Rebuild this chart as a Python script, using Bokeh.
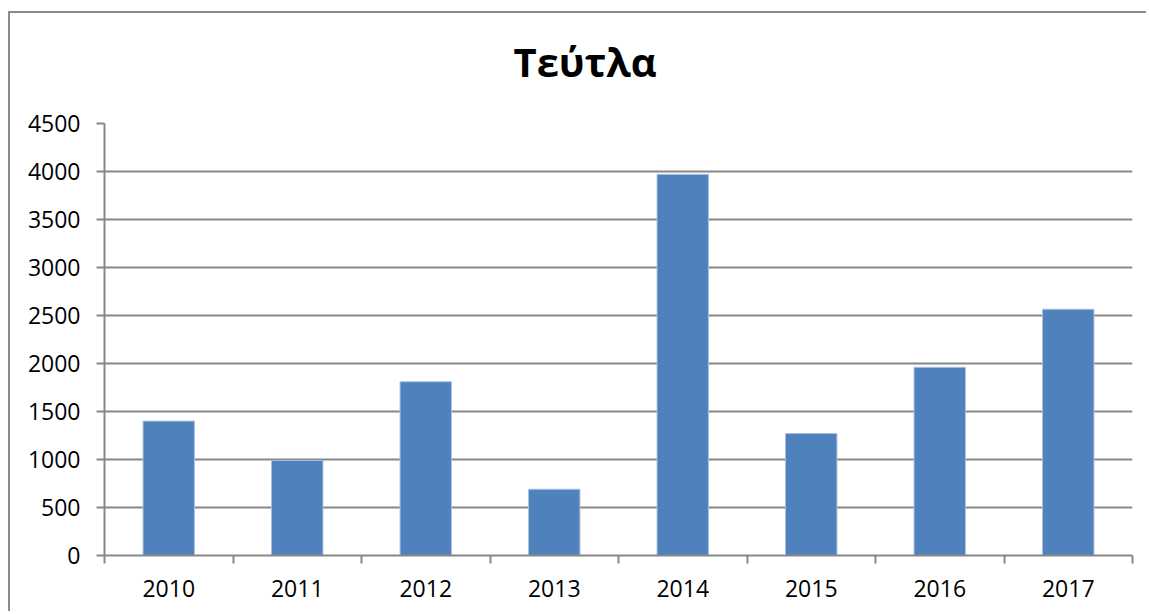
from bokeh.plotting import figure
from bokeh.models import FixedTicker, Range1d, Title
from bokeh.embed import file_html
from bokeh.resources import INLINE

# ---- data ----
title_text = "Τεύτλα"
years = ["2010", "2011", "2012", "2013", "2014", "2015", "2016", "2017"]
values = [1400, 990, 1810, 690, 3970, 1270, 1960, 2565]
y_ticks = [0, 500, 1000, 1500, 2000, 2500, 3000, 3500, 4000, 4500]

n = len(years)
centers = [i + 0.5 for i in range(n)]
bounds = [i for i in range(n + 1)]

GRID = "#878787"
FONT = "Open Sans"

p = figure(width=1138, height=600, output_backend="svg", toolbar_location=None,
           x_range=Range1d(0, n), y_range=Range1d(0, 4500),
           min_border_left=94, min_border_right=16, min_border_top=110, min_border_bottom=58)
p.styles = {"border-top": "2px solid #8a8a8a", "border-left": "2px solid #8a8a8a",
            "margin-top": "11px", "margin-left": "8px"}
p.outline_line_color = None

p.vbar(x=centers, top=values, width=0.4, fill_color="#4F81BD", line_color="#a9c0de", line_width=1)

# blank spacer between plot area and title
p.add_layout(Title(text=" ", text_font_size="1px", standoff=14), "above")

# title
p.title.text = title_text
p.title.align = "left"
p.title.vertical_align = "bottom"
p.title.text_font = FONT
p.title.text_font_size = "40px"
p.title.text_font_style = "bold"
p.title.text_color = "#000000"
p.title.offset = 409
p.title.standoff = 36

# x axis: labels at centers, ticks at category boundaries
xt = FixedTicker(ticks=centers, minor_ticks=bounds)
p.xaxis.ticker = xt
p.xaxis.major_label_overrides = {c: y for c, y in zip(centers, years)}
p.xaxis.major_tick_out = 0
p.xaxis.major_tick_in = 0
p.xaxis.minor_tick_out = 8
p.xaxis.minor_tick_in = 0
p.xaxis.minor_tick_line_color = GRID
p.xaxis.minor_tick_line_width = 2
p.xaxis.axis_line_color = GRID
p.xaxis.axis_line_width = 2
p.xaxis.major_label_text_font = FONT
p.xaxis.major_label_text_font_size = "23px"
p.xaxis.major_label_text_color = "#000000"
p.xaxis.major_label_standoff = 16

# y axis
p.yaxis.ticker = FixedTicker(ticks=y_ticks)
p.yaxis.minor_tick_line_color = None
p.yaxis.major_tick_out = 8
p.yaxis.major_tick_in = 0
p.yaxis.major_tick_line_color = GRID
p.yaxis.major_tick_line_width = 2
p.yaxis.axis_line_color = GRID
p.yaxis.axis_line_width = 2
p.yaxis.major_label_text_font = FONT
p.yaxis.major_label_text_font_size = "23px"
p.yaxis.major_label_text_color = "#000000"
p.yaxis.major_label_standoff = 16

p.xgrid.grid_line_color = None
p.ygrid.grid_line_color = GRID
p.ygrid.grid_line_width = 2
p.ygrid.ticker = FixedTicker(ticks=y_ticks)

open("out.html", "w").write(file_html(p, INLINE))
